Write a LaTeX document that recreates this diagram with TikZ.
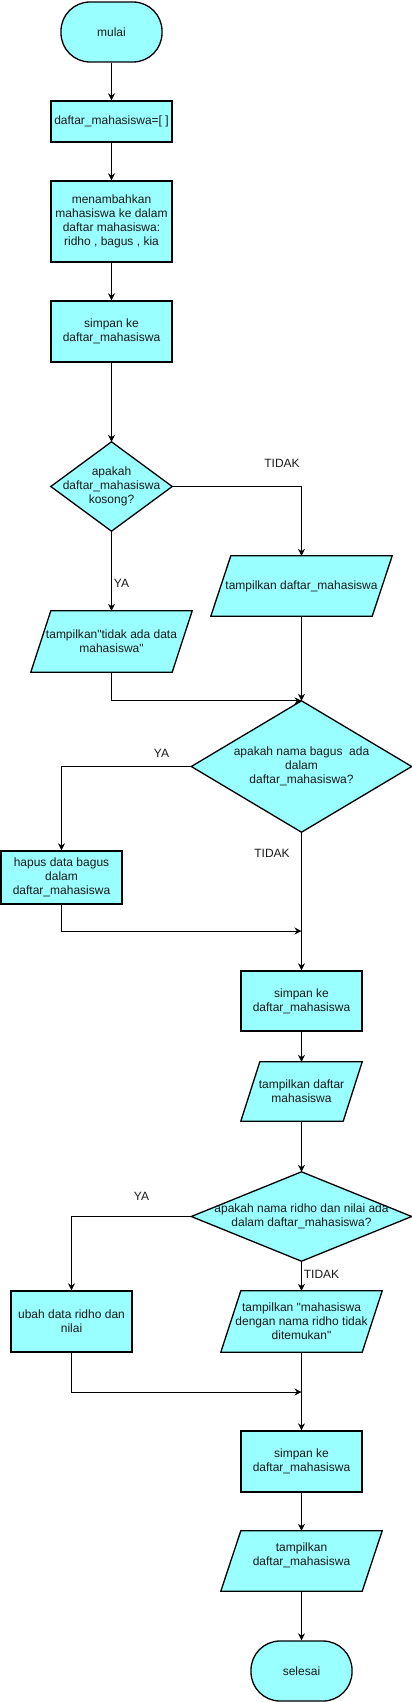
\documentclass[tikz,border=0pt]{standalone}
\usepackage{fontspec}
\setmainfont{Liberation Sans}[Ligatures=TeXOff]
\usetikzlibrary{arrows.meta,calc}
\pgfdeclarelayer{bg}
\pgfsetlayers{bg,main}
\definecolor{boxfill}{HTML}{99FFFF}
\definecolor{txt}{HTML}{1A1A1A}
\newcommand\parashape[2]{\draw[shapeline] ($(#1.north west)+(#2,0)$) -- (#1.north east) -- ($(#1.south east)-(#2,0)$) -- (#1.south west) -- cycle;}
\newcommand\diamshape[1]{\draw[shapeline] (#1.north) -- (#1.east) -- (#1.south) -- (#1.west) -- cycle;}
\begin{document}
\begin{tikzpicture}[x=1pt,y=-1pt,
  every node/.style={font=\fontsize{12}{14}\selectfont, text=txt, inner sep=0pt, align=center},
  proc/.style={draw=black, line width=1.3pt, fill=boxfill, rectangle},
  term/.style={proc, rounded corners=29pt},
  holder/.style={rectangle},
  shapeline/.style={draw=black, line width=1.3pt, fill=boxfill},
  conn/.style={draw=black, line width=1pt, -{Stealth[length=7pt,width=7pt]}},
  lbl/.style={}
]
\useasboundingbox (0,0) rectangle (412,1702);

% nodes
\node[term, minimum width=101pt, minimum height=60pt] (mulai) at (111.5,32) {mulai};
\node[proc, minimum width=121pt, minimum height=41pt] (daftar) at (111.5,121.5) {daftar\_mahasiswa=[ ]};
\node[proc, minimum width=121pt, minimum height=81pt] (tambah) at (111.5,221.5) {menambahkan\\mahasiswa ke dalam\\daftar mahasiswa:\\ridho , bagus , kia};
\node[proc, minimum width=121pt, minimum height=61pt] (simpan1) at (111.5,331.5) {simpan ke\\daftar\_mahasiswa};
\node[holder, minimum width=121pt, minimum height=89pt] (d1) at (111.5,486.5) {apakah\\daftar\_mahasiswa\\kosong?};
\node[holder, minimum width=181pt, minimum height=60pt] (pr1) at (301.5,586) {tampilkan daftar\_mahasiswa};
\node[holder, minimum width=161pt, minimum height=61pt] (pl1) at (111.5,641.5) {tampilkan"tidak ada data\\mahasiswa"};
\node[holder, minimum width=220pt, minimum height=131pt] (d2) at (301.5,766.5) {apakah nama bagus~ ada\\dalam\\daftar\_mahasiswa?};
\node[proc, minimum width=121pt, minimum height=53pt] (hapus) at (61.5,877.5) {hapus data bagus\\dalam\\daftar\_mahasiswa};
\node[proc, minimum width=121pt, minimum height=60pt] (simpan2) at (301.5,1001) {simpan ke\\daftar\_mahasiswa};
\node[holder, minimum width=121pt, minimum height=59pt] (pm) at (301.5,1091.5) {tampilkan daftar\\mahasiswa};
\node[holder, minimum width=220pt, minimum height=89pt] (d3) at (301.5,1216.5) {apakah nama ridho dan nilai ada\\dalam daftar\_mahasiswa?};
\node[proc, minimum width=121pt, minimum height=61pt] (ubah) at (71.5,1321.5) {ubah data ridho dan\\nilai};
\node[holder, minimum width=161pt, minimum height=61pt] (p3) at (301.5,1321.5) {tampilkan "mahasiswa\\dengan nama ridho tidak\\ditemukan"};
\node[proc, minimum width=121pt, minimum height=61pt] (simpan3) at (301.5,1461.5) {simpan ke\\daftar\_mahasiswa};
\node[holder, minimum width=161pt, minimum height=60pt] (plast) at (301.5,1561) {tampilkan\\daftar\_mahasiswa\\\mbox{}};
\node[term, minimum width=101pt, minimum height=60pt] (selesai) at (301.5,1671) {selesai};

\coordinate (m1) at (301.5,931);
\coordinate (m2) at (301.5,1392);

% shapes behind text
\begin{pgfonlayer}{bg}
\diamshape{d1}
\diamshape{d2}
\diamshape{d3}
\parashape{pr1}{20}
\parashape{pl1}{20}
\parashape{pm}{19}
\parashape{p3}{20}
\parashape{plast}{20}
\end{pgfonlayer}

% connectors
\draw[conn] (mulai) -- (daftar);
\draw[conn] (daftar) -- (tambah);
\draw[conn] (tambah) -- (simpan1);
\draw[conn] (simpan1) -- (d1.north);
\draw[conn] (d1.east) -| (pr1.north);
\draw[conn] (d1.south) -- (pl1.north);
\draw[conn] (pl1.south) |- (d2.north);
\draw[conn] (pr1.south) -- (d2.north);
\draw[conn] (d2.west) -| (hapus.north);
\draw[conn] (d2.south) -- (simpan2.north);
\draw[conn] (hapus.south) |- (m1);
\draw[conn] (simpan2) -- (pm.north);
\draw[conn] (pm.south) -- (d3.north);
\draw[conn] (d3.west) -| (ubah.north);
\draw[conn] (d3.south) -- (p3.north);
\draw[conn] (ubah.south) |- (m2);
\draw[conn] (p3.south) -- (simpan3.north);
\draw[conn] (simpan3) -- (plast.north);
\draw[conn] (plast.south) -- (selesai);

% labels
\node[lbl] (t1) at (282,463) {TIDAK};
\node[lbl] (y1) at (121.5,583) {YA};
\node[lbl] (y2) at (161.5,753) {YA};
\node[lbl] (t2) at (272,853) {TIDAK};
\node[lbl] (y3) at (141.5,1196) {YA};
\node[lbl] (t3) at (321.5,1274) {TIDAK};
\end{tikzpicture}
\end{document}
